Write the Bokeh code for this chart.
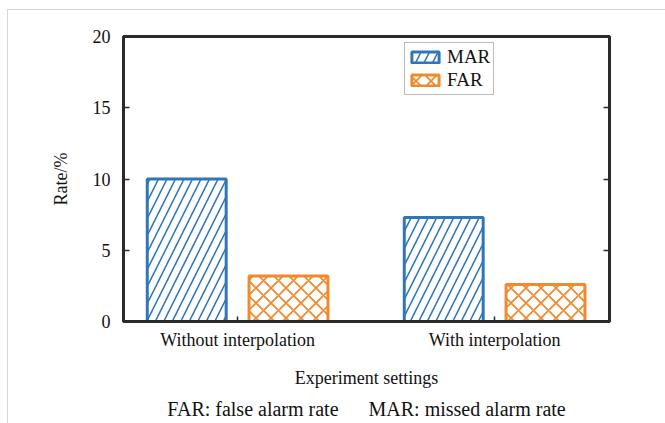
from bokeh.plotting import figure
from bokeh.models import (Range1d, FixedTicker, LinearAxis, Legend, LegendItem,
                          ColumnDataSource, Title)
from bokeh.transform import dodge
from bokeh.embed import file_html
from bokeh.resources import INLINE

categories = ["Without interpolation", "With interpolation"]
mar = [10.0, 7.3]
far = [3.2, 2.6]
y_ticks = [0, 5, 10, 15, 20]

FONT = "Liberation Serif"
FS = "18px"
BLUE = "#3077b8"
ORANGE = "#f08a2e"
AX = "#2a2a2a"

pos = list(range(1, len(categories) + 1))
src = ColumnDataSource(dict(x=pos, mar=mar, far=far))

p = figure(width=657, height=413, output_backend="svg", toolbar_location=None,
           x_range=Range1d(0.556, 2.447), y_range=Range1d(0, 20),
           frame_width=486, frame_height=285,
           min_border_left=115, min_border_right=56, min_border_top=26, min_border_bottom=102)
p.margin = (9, 0, 0, 7)
p.styles = {"border-top": "1px solid #d6d6d6", "border-left": "1px solid #d6d6d6"}
p.grid.visible = False
p.background_fill_color = "white"
p.border_fill_color = "white"
p.outline_line_color = AX
p.outline_line_width = 3

r1 = p.vbar(x=dodge("x", -0.198, range=p.x_range), top="mar", width=0.307, source=src,
            fill_color="white", line_color=BLUE, line_width=3,
            hatch_pattern="right_diagonal_line", hatch_color=BLUE, hatch_scale=17, hatch_weight=1.6)
r2 = p.vbar(x=dodge("x", 0.198, range=p.x_range), top="far", width=0.307, source=src,
            fill_color="white", line_color=ORANGE, line_width=3,
            hatch_pattern="diagonal_cross", hatch_color=ORANGE, hatch_scale=15, hatch_weight=1.8)

# bottom axis
xa = p.xaxis[0]
xa.ticker = FixedTicker(ticks=pos)
xa.major_label_overrides = {v: c for v, c in zip(pos, categories)}
xa.axis_label = "Experiment settings"
# left axis
ya = p.yaxis[0]
ya.ticker = FixedTicker(ticks=y_ticks)
ya.axis_label = "Rate/%"

for ax in (xa, ya):
    ax.axis_line_color = AX
    ax.axis_line_width = 3
    ax.major_tick_line_color = AX
    ax.major_tick_line_width = 1.5
    ax.major_tick_in = 6
    ax.major_tick_out = 0
    ax.minor_tick_line_color = None
    ax.major_label_text_font = FONT
    ax.major_label_text_font_size = FS
    ax.major_label_text_color = "#111111"
    ax.axis_label_text_font = FONT
    ax.axis_label_text_font_size = FS
    ax.axis_label_text_font_style = "normal"
    ax.axis_label_text_color = "#111111"
xa.major_tick_in = 5
xa.major_label_standoff = 8
xa.axis_label_standoff = 15
ya.major_label_standoff = 13
ya.axis_label_standoff = 19

ra = LinearAxis(ticker=FixedTicker(ticks=y_ticks))
ra.axis_line_color = AX
ra.axis_line_width = 3
ra.major_tick_line_color = AX
ra.major_tick_line_width = 1.5
ra.major_tick_in = 6
ra.major_tick_out = 0
ra.minor_tick_line_color = None
ra.major_label_text_font_size = "0px"
ra.major_label_text_color = None
p.add_layout(ra, "right")

note = "FAR: false alarm rate" + "\u00a0" * 6 + "MAR: missed alarm rate"
p.add_layout(Title(text=note, align="center", text_font=FONT, text_font_size="20px",
                   text_font_style="normal", text_color="#111111", offset=0), "below")

legend = Legend(items=[LegendItem(label="MAR", renderers=[r1]),
                       LegendItem(label="FAR", renderers=[r2])],
                location=(281, 226), glyph_width=34, glyph_height=14,
                label_text_font=FONT, label_text_font_size="19px", label_text_color="#111111",
                label_standoff=5, padding=3, spacing=1, margin=0,
                border_line_color="#777777", border_line_width=1.5,
                background_fill_alpha=1)
p.add_layout(legend, "center")

open("out.html", "w").write(file_html(p, INLINE))
